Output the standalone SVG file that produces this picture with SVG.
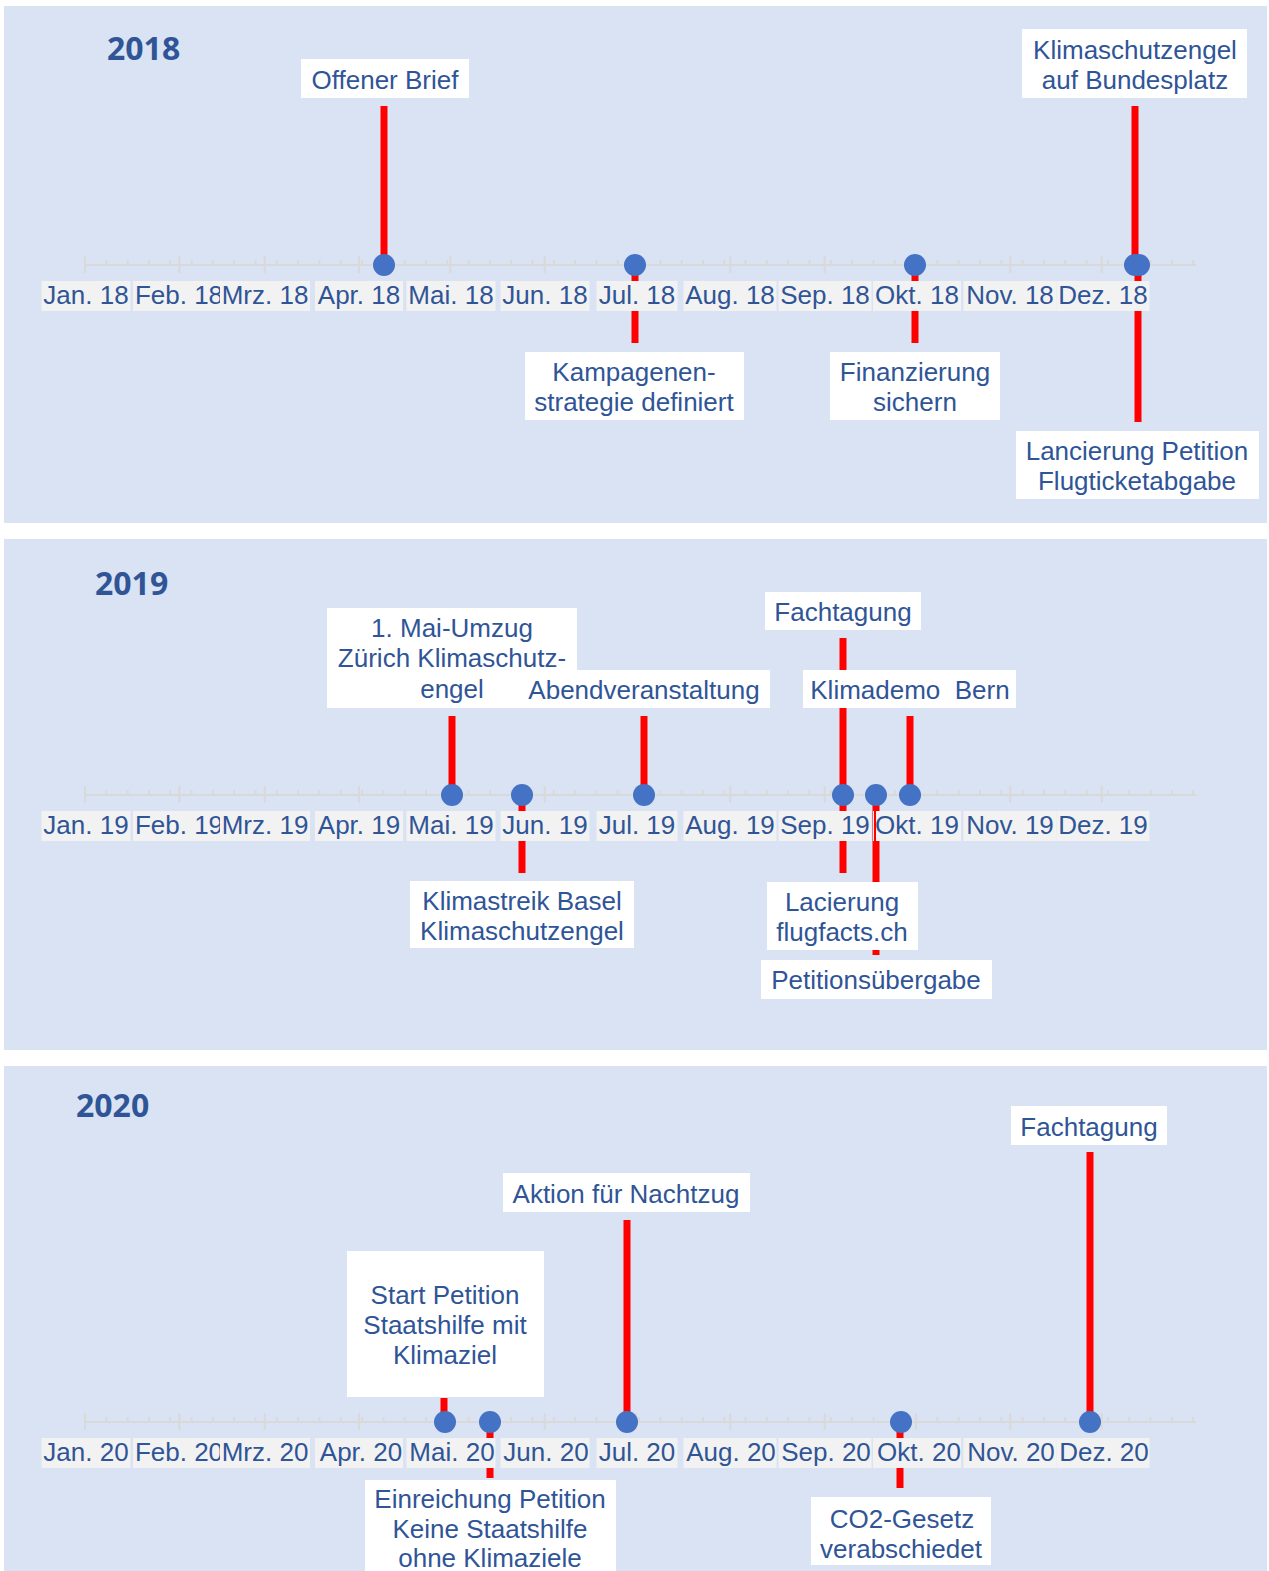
<svg xmlns="http://www.w3.org/2000/svg" xmlns:xlink="http://www.w3.org/1999/xlink" width="1269" height="1571" viewBox="0 0 1269 1571">
<style>
.bg{fill:#DAE3F3}
.yr{font-family:"Open Sans","Liberation Sans",sans-serif;font-weight:bold;font-size:32px;fill:#2F5597}
.t{font-family:"Liberation Sans",Arial,sans-serif;font-size:26px;fill:#2F5597;text-anchor:middle}
.ml rect{fill:#F2F2F2}
.box{fill:#FFFFFF}
.stem{stroke:#FF0000;stroke-width:7;fill:none}
.thin{stroke:#FF0000;stroke-width:2;fill:none}
.dot{fill:#4472C4}
.ax{stroke:#D9D9D9;stroke-width:2;fill:none}
</style>
<defs>
<g id="axis" class="ax">
<path d="M85,0H1196"/>
<path d="M85,-9v17M179.4,-9v17M264.6,-9v17M359,-9v17M450.3,-9v17M544.6,-9v17M636,-9v17M730.3,-9v17M824.7,-9v17M916,-9v17M1010.4,-9v17M1101.7,-9v17"/>
<path d="M85,-5v5m21.31,-5v5m21.31,-5v5m21.31,-5v5m21.31,-5v5m21.31,-5v5m21.31,-5v5m21.31,-5v5m21.31,-5v5m21.31,-5v5m21.31,-5v5m21.31,-5v5m21.31,-5v5m21.31,-5v5m21.31,-5v5m21.31,-5v5m21.31,-5v5m21.31,-5v5m21.31,-5v5m21.31,-5v5m21.31,-5v5m21.31,-5v5m21.31,-5v5m21.31,-5v5m21.31,-5v5m21.31,-5v5m21.31,-5v5m21.31,-5v5m21.31,-5v5m21.31,-5v5m21.31,-5v5m21.31,-5v5m21.31,-5v5m21.31,-5v5m21.31,-5v5m21.31,-5v5m21.31,-5v5m21.31,-5v5m21.31,-5v5m21.31,-5v5m21.31,-5v5m21.31,-5v5m21.31,-5v5m21.31,-5v5m21.31,-5v5m21.31,-5v5m21.31,-5v5m21.31,-5v5m21.31,-5v5m21.31,-5v5m21.31,-5v5m21.31,-5v5m21.31,-5v5"/>
</g>
</defs>

<rect width="1269" height="1571" fill="#FFFFFF"/>
<g id="panels">
<rect class="bg" x="4" y="6" width="1263" height="517"/>
<rect class="bg" x="4" y="539" width="1263" height="511"/>
<rect class="bg" x="4" y="1066" width="1263" height="505"/>
</g>

<g id="years">
<text class="yr" x="107" y="60">2018</text>
<text class="yr" x="95" y="595">2019</text>
<text class="yr" x="76" y="1117">2020</text>
</g>

<g id="axes">
<use xlink:href="#axis" transform="translate(0,265)"/>
<use xlink:href="#axis" transform="translate(0,795)"/>
<use xlink:href="#axis" transform="translate(0,1422)"/>
</g>

<g id="connectors">
<path class="stem" d="M384,106V265M635,265V343M915,265V343M1135,106V265M1138,265V422"/>
<path class="stem" d="M452,716V795M644,716V795M843,638V795M910,716V795M522,795V873M843,795V873M876,795V955"/>
<path class="stem" d="M444,1398V1422M490,1422V1478M627,1220V1422M900,1422V1488M1090,1152V1422"/>
</g>

<g id="months-2018" class="ml">
<rect x="41.5" y="281" width="89" height="30"/><text class="t" x="86" y="304">Jan. 18</text>
<rect x="133" y="281" width="92" height="30"/><text class="t" x="179" y="304">Feb. 18</text>
<rect x="220" y="281" width="90" height="30"/><text class="t" x="265" y="304">Mrz. 18</text>
<rect x="315" y="281" width="88" height="30"/><text class="t" x="359" y="304">Apr. 18</text>
<rect x="406.5" y="281" width="89" height="30"/><text class="t" x="451" y="304">Mai. 18</text>
<rect x="500.5" y="281" width="89" height="30"/><text class="t" x="545" y="304">Jun. 18</text>
<rect x="596.5" y="281" width="81" height="30"/><text class="t" x="637" y="304">Jul. 18</text>
<rect x="683.5" y="281" width="93" height="30"/><text class="t" x="730" y="304">Aug. 18</text>
<rect x="778.5" y="281" width="93" height="30"/><text class="t" x="825" y="304">Sep. 18</text>
<rect x="873" y="281" width="88" height="30"/><text class="t" x="917" y="304">Okt. 18</text>
<rect x="963.5" y="281" width="93" height="30"/><text class="t" x="1010" y="304">Nov. 18</text>
<rect x="1056.5" y="281" width="93" height="30"/><text class="t" x="1103" y="304">Dez. 18</text>
</g>

<g id="months-2019" class="ml">
<rect x="41.5" y="811" width="89" height="30"/><text class="t" x="86" y="834">Jan. 19</text>
<rect x="133" y="811" width="92" height="30"/><text class="t" x="179" y="834">Feb. 19</text>
<rect x="220" y="811" width="90" height="30"/><text class="t" x="265" y="834">Mrz. 19</text>
<rect x="315" y="811" width="88" height="30"/><text class="t" x="359" y="834">Apr. 19</text>
<rect x="406.5" y="811" width="89" height="30"/><text class="t" x="451" y="834">Mai. 19</text>
<rect x="500.5" y="811" width="89" height="30"/><text class="t" x="545" y="834">Jun. 19</text>
<rect x="596.5" y="811" width="81" height="30"/><text class="t" x="637" y="834">Jul. 19</text>
<rect x="683.5" y="811" width="93" height="30"/><text class="t" x="730" y="834">Aug. 19</text>
<rect x="778.5" y="811" width="93" height="30"/><text class="t" x="825" y="834">Sep. 19</text>
<rect x="873" y="811" width="88" height="30"/><text class="t" x="917" y="834">Okt. 19</text>
<rect x="963.5" y="811" width="93" height="30"/><text class="t" x="1010" y="834">Nov. 19</text>
<rect x="1056.5" y="811" width="93" height="30"/><text class="t" x="1103" y="834">Dez. 19</text>
</g>

<g id="months-2020" class="ml">
<rect x="41.5" y="1438" width="89" height="30"/><text class="t" x="86" y="1461">Jan. 20</text>
<rect x="133" y="1438" width="92" height="30"/><text class="t" x="179" y="1461">Feb. 20</text>
<rect x="220" y="1438" width="90" height="30"/><text class="t" x="265" y="1461">Mrz. 20</text>
<rect x="315" y="1438" width="88" height="30"/><text class="t" x="361" y="1461">Apr. 20</text>
<rect x="406.5" y="1438" width="89" height="30"/><text class="t" x="452" y="1461">Mai. 20</text>
<rect x="500.5" y="1438" width="89" height="30"/><text class="t" x="546" y="1461">Jun. 20</text>
<rect x="596.5" y="1438" width="81" height="30"/><text class="t" x="637" y="1461">Jul. 20</text>
<rect x="683.5" y="1438" width="93" height="30"/><text class="t" x="731" y="1461">Aug. 20</text>
<rect x="778.5" y="1438" width="93" height="30"/><text class="t" x="826" y="1461">Sep. 20</text>
<rect x="873" y="1438" width="88" height="30"/><text class="t" x="919" y="1461">Okt. 20</text>
<rect x="963.5" y="1438" width="93" height="30"/><text class="t" x="1011" y="1461">Nov. 20</text>
<rect x="1056.5" y="1438" width="93" height="30"/><text class="t" x="1104" y="1461">Dez. 20</text>
</g>

<g id="connector-overlay">
<path class="thin" d="M875,810V842"/>
</g>

<g id="n-offener-brief"><rect class="box" x="301" y="59" width="168" height="39"/><text class="t" x="385" y="89">Offener Brief</text></g>
<g id="n-klimaschutzengel-bundesplatz"><rect class="box" x="1022" y="29" width="225" height="69"/><text class="t" x="1135" y="59">Klimaschutzengel</text><text class="t" x="1135" y="89">auf Bundesplatz</text></g>
<g id="n-kampagnenstrategie"><rect class="box" x="525" y="352" width="219" height="68"/><text class="t" x="634" y="381">Kampagenen-</text><text class="t" x="634" y="411">strategie definiert</text></g>
<g id="n-finanzierung"><rect class="box" x="830" y="352" width="170" height="68"/><text class="t" x="915" y="381">Finanzierung</text><text class="t" x="915" y="411">sichern</text></g>
<g id="n-lancierung-petition"><rect class="box" x="1016" y="431" width="243" height="68"/><text class="t" x="1137" y="460">Lancierung Petition</text><text class="t" x="1137" y="490">Flugticketabgabe</text></g>

<g id="n-mai-umzug"><rect class="box" x="327" y="608" width="250" height="100"/><text class="t" x="452" y="637">1. Mai-Umzug</text><text class="t" x="452" y="667">Zürich Klimaschutz-</text><text class="t" x="452" y="698">engel</text></g>
<g id="n-abendveranstaltung"><rect class="box" x="518" y="670" width="252" height="38"/><text class="t" x="644" y="699">Abendveranstaltung</text></g>
<g id="n-fachtagung-2019"><rect class="box" x="765" y="592" width="156" height="38"/><text class="t" x="843" y="621">Fachtagung</text></g>
<g id="n-klimademo-bern"><rect class="box" x="803" y="670" width="213" height="38"/><text class="t" x="910" y="699" style="white-space:pre">Klimademo  Bern</text></g>
<g id="n-klimastreik-basel"><rect class="box" x="410" y="881" width="224" height="67"/><text class="t" x="522" y="910">Klimastreik Basel</text><text class="t" x="522" y="940">Klimaschutzengel</text></g>
<g id="n-lacierung-flugfacts"><rect class="box" x="767" y="882" width="151" height="68"/><text class="t" x="842" y="911">Lacierung</text><text class="t" x="842" y="941">flugfacts.ch</text></g>
<g id="n-petitionsuebergabe"><rect class="box" x="761" y="960" width="231" height="39"/><text class="t" x="876" y="989">Petitionsübergabe</text></g>

<g id="n-start-petition"><rect class="box" x="347" y="1251" width="197" height="146"/><text class="t" x="445" y="1304">Start Petition</text><text class="t" x="445" y="1334">Staatshilfe mit</text><text class="t" x="445" y="1364">Klimaziel</text></g>
<g id="n-einreichung-petition"><rect class="box" x="365" y="1480" width="251" height="95"/><text class="t" x="490" y="1508">Einreichung Petition</text><text class="t" x="490" y="1538">Keine Staatshilfe</text><text class="t" x="490" y="1567">ohne Klimaziele</text></g>
<g id="n-aktion-nachtzug"><rect class="box" x="503" y="1173" width="247" height="39"/><text class="t" x="626" y="1203">Aktion für Nachtzug</text></g>
<g id="n-co2-gesetz"><rect class="box" x="811" y="1497" width="180" height="68"/><text class="t" x="902" y="1528">CO2-Gesetz</text><text class="t" x="901" y="1558">verabschiedet</text></g>
<g id="n-fachtagung-2020"><rect class="box" x="1011" y="1106" width="156" height="39"/><text class="t" x="1089" y="1136">Fachtagung</text></g>

<g id="markers" class="dot">
<circle cx="384" cy="265" r="11"/><circle cx="635" cy="265" r="11"/><circle cx="915" cy="265" r="11"/><circle cx="1135" cy="265" r="11"/><circle cx="1139" cy="265" r="11"/>
<circle cx="452" cy="795" r="11"/><circle cx="522" cy="795" r="11"/><circle cx="644" cy="795" r="11"/><circle cx="843" cy="795" r="11"/><circle cx="876" cy="795" r="11"/><circle cx="910" cy="795" r="11"/>
<circle cx="445" cy="1422" r="11"/><circle cx="490" cy="1422" r="11"/><circle cx="627" cy="1422" r="11"/><circle cx="901" cy="1422" r="11"/><circle cx="1090" cy="1422" r="11"/>
</g>
</svg>
